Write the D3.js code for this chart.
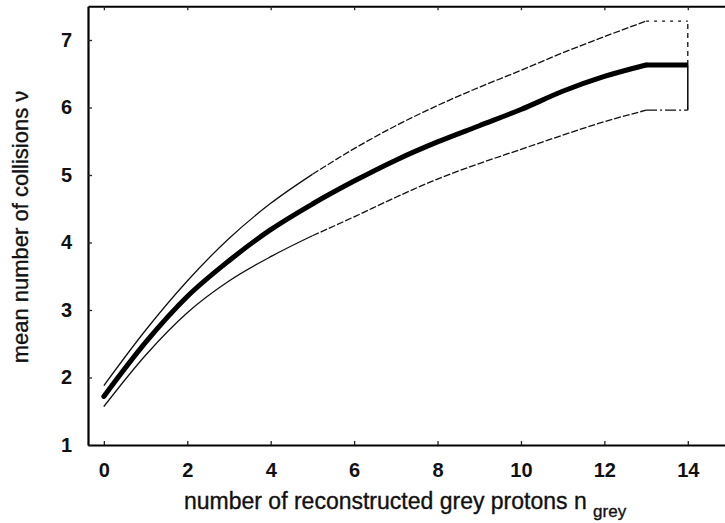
<!DOCTYPE html>
<html>
<head>
<meta charset="utf-8">
<script src="https://cdn.jsdelivr.net/npm/d3@7"></script>
<style>
  html, body { margin: 0; padding: 0; background: #fff; }
  svg { display: block; }
  text { font-family: "Liberation Sans", Arial, Helvetica, sans-serif; fill: #111; }
</style>
</head>
<body>
<svg id="chart" width="725" height="523"></svg>
<script>
// number of reconstructed grey protons
const nGrey = [0, 1, 2, 3, 4, 5, 6, 7, 8, 9, 10, 11, 12, 13, 14];
// mean number of collisions and its upper / lower band
const nuMean  = [1.72, 2.52, 3.20, 3.73, 4.19, 4.57, 4.91, 5.22, 5.49, 5.73, 5.97, 6.24, 6.46, 6.63, 6.63];
const nuUpper = [1.88, 2.70, 3.43, 4.06, 4.58, 5.01, 5.39, 5.73, 6.03, 6.30, 6.55, 6.81, 7.05, 7.28, 7.28];
const nuLower = [1.57, 2.33, 2.96, 3.43, 3.79, 4.10, 4.38, 4.67, 4.94, 5.17, 5.38, 5.59, 5.79, 5.96, 5.96];
const xTicks = [0, 2, 4, 6, 8, 10, 12, 14];
const yTicks = [1, 2, 3, 4, 5, 6, 7];

const svg = d3.select("#chart");
const x = d3.scaleLinear().domain([-0.38, 15]).range([88, 729.5]);
const y = d3.scaleLinear().domain([1, 7.5]).range([445, 6.25]);

const pts = arr => nGrey.map((n, i) => [n, arr[i]]);
const smooth = d3.line().x(d => x(d[0])).y(d => y(d[1])).curve(d3.curveMonotoneX);
const straight = d3.line().x(d => x(d[0])).y(d => y(d[1])).curve(d3.curveLinear);

// band edges: solid at low n, broken further out, sparse on the last bin
function band(arr, tailDash) {
  const p = pts(arr);
  svg.append("path").attr("d", smooth(p.slice(0, 6)))
    .attr("fill", "none").attr("stroke", "#111").attr("stroke-width", 1.3);
  svg.append("path").attr("d", smooth(p.slice(5, 14)))
    .attr("fill", "none").attr("stroke", "#111").attr("stroke-width", 1.3)
    .attr("stroke-dasharray", "7,2");
  svg.append("path").attr("d", straight(p.slice(13)))
    .attr("fill", "none").attr("stroke", "#111").attr("stroke-width", 1.2)
    .attr("stroke-dasharray", tailDash);
}
band(nuUpper, "3,5");
band(nuLower, "11,3,2,3");

// closing bar at the last bin
const last = nGrey.length - 1;
svg.append("line")
  .attr("x1", x(nGrey[last])).attr("x2", x(nGrey[last]))
  .attr("y1", y(nuLower[last])).attr("y2", y(nuMean[last]))
  .attr("stroke", "#111").attr("stroke-width", 1.6);
svg.append("line")
  .attr("x1", x(nGrey[last])).attr("x2", x(nGrey[last]))
  .attr("y1", y(nuMean[last])).attr("y2", y(nuUpper[last]))
  .attr("stroke", "#111").attr("stroke-width", 1.3).attr("stroke-dasharray", "5,4");

// mean curve: smooth up to the plateau, then flat
const m = pts(nuMean);
svg.append("path").attr("d", smooth(m.slice(0, 14)))
  .attr("fill", "none").attr("stroke", "#000").attr("stroke-width", 5)
  .attr("stroke-linecap", "round");
svg.append("path").attr("d", straight(m.slice(13)))
  .attr("fill", "none").attr("stroke", "#000").attr("stroke-width", 5)
  .attr("stroke-linecap", "butt");

// axes with inward ticks
const axB = d3.axisBottom(x).tickValues(xTicks).tickSizeInner(-4).tickSizeOuter(0).tickPadding(18).tickFormat(d3.format("d"));
const axT = d3.axisTop(x).tickValues(xTicks).tickSizeInner(-4).tickSizeOuter(0).tickFormat("");
const axL = d3.axisLeft(y).tickValues(yTicks).tickSizeInner(-4).tickSizeOuter(0).tickPadding(16).tickFormat(d3.format("d"));
const axR = d3.axisRight(y).tickValues(yTicks).tickSizeInner(-4).tickSizeOuter(0).tickFormat("");

function styleAxis(g) {
  g.select(".domain").attr("stroke", "#000").attr("stroke-width", 2.2);
  g.selectAll(".tick line").attr("stroke", "#222").attr("stroke-width", 1.3);
  g.selectAll(".tick text").attr("font-size", 20).attr("font-weight", "bold").attr("fill", "#111")
    .style("font-family", "'Liberation Sans', Arial, sans-serif");
}
svg.append("g").attr("transform", `translate(0,${y(1)})`).call(axB).call(styleAxis);
svg.append("g").attr("transform", `translate(0,${y(7.5)})`).call(axT).call(styleAxis);
svg.append("g").attr("transform", `translate(${x(-0.38)},0)`).call(axL).call(styleAxis);
svg.append("g").attr("transform", `translate(${x(15)},0)`).call(axR).call(styleAxis);

// axis titles
const xt = svg.append("text").attr("x", 184).attr("y", 509)
  .attr("font-size", 23).attr("stroke", "#111").attr("stroke-width", 0.35);
xt.append("tspan").text("number of reconstructed grey protons n ");
xt.append("tspan").attr("dy", 8).attr("font-size", 17).text("grey");

svg.append("text")
  .attr("transform", "translate(28,227) rotate(-90)")
  .attr("text-anchor", "middle").attr("font-size", 22)
  .attr("stroke", "#111").attr("stroke-width", 0.35)
  .text("mean number of collisions ν");
</script>
</body>
</html>
